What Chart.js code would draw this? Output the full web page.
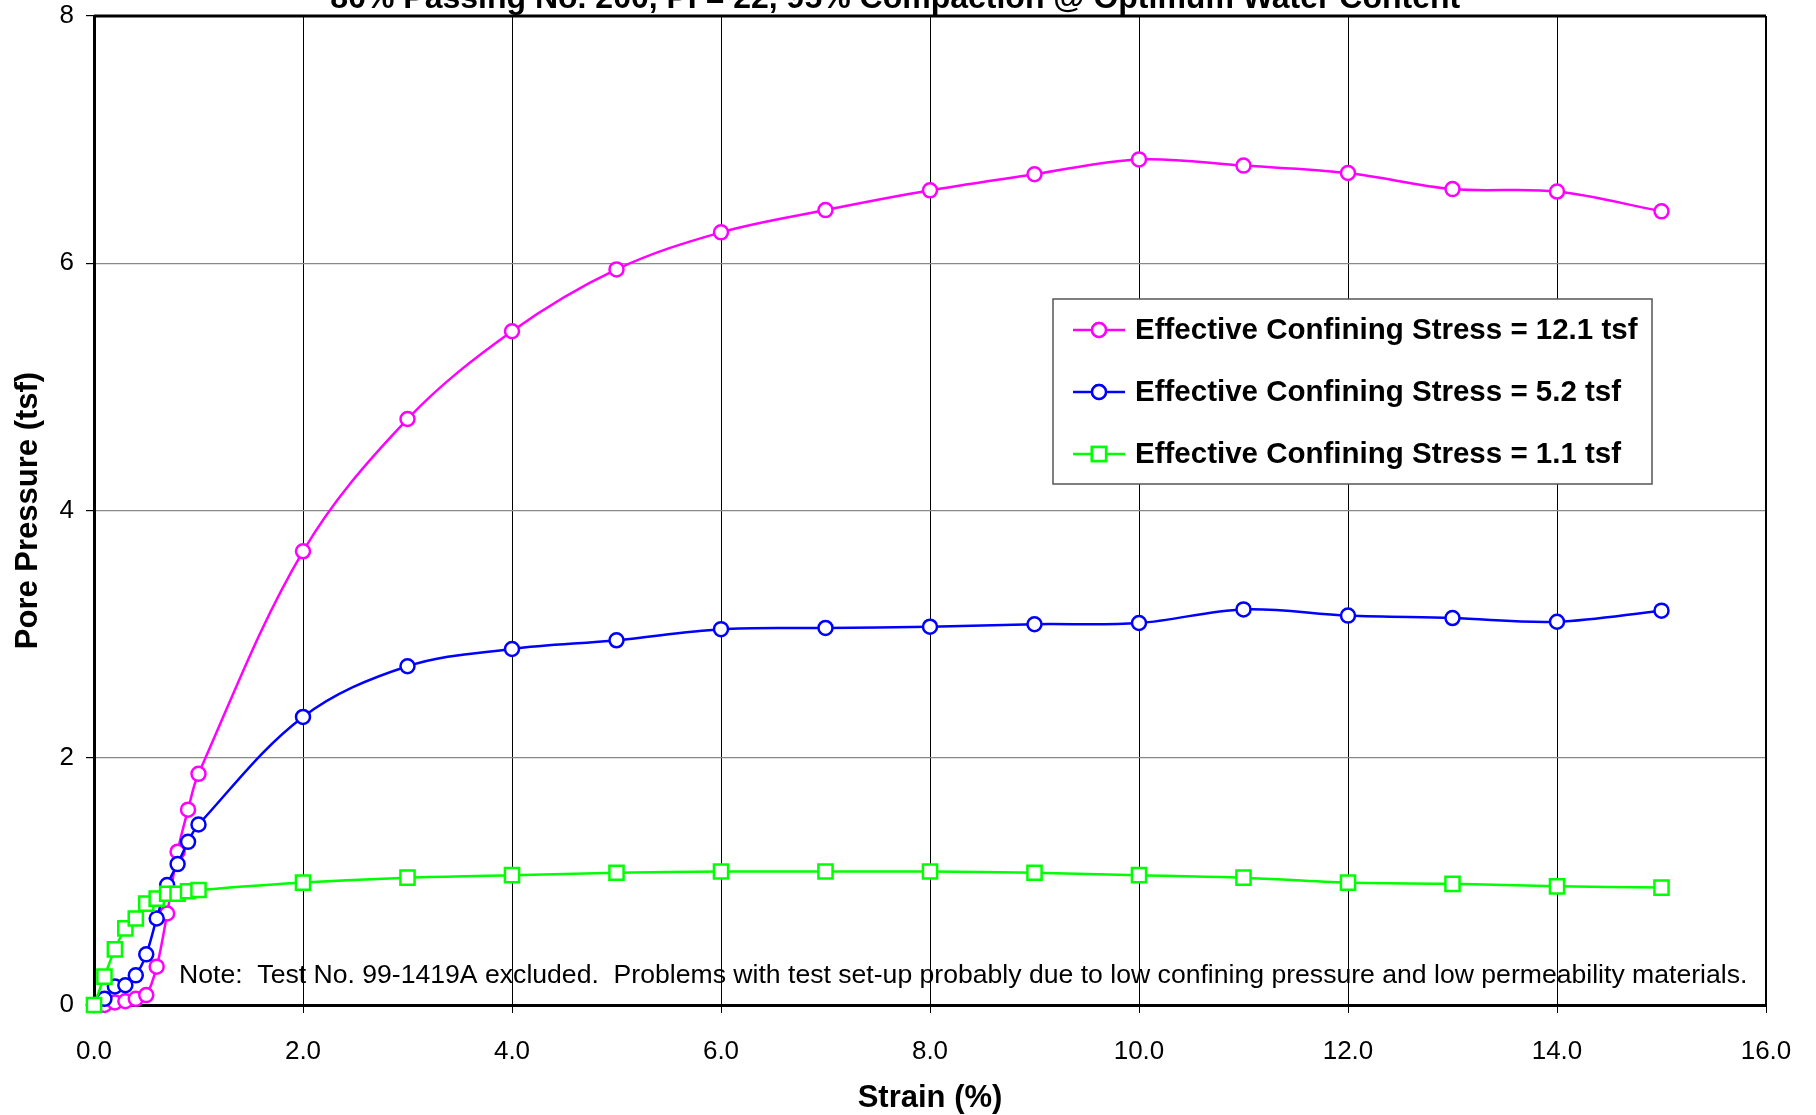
<!DOCTYPE html>
<html>
<head>
<meta charset="utf-8">
<title>Pore Pressure vs Strain</title>
<script src="https://cdn.jsdelivr.net/npm/chart.js@4.4.1/dist/chart.umd.min.js"></script>
<style>
  html, body { margin: 0; padding: 0; background: #fff; }
  #chartWrap { width: 1816px; height: 1115px; position: relative; }
</style>
</head>
<body>
<div id="chartWrap"><canvas id="porePressureChart"></canvas></div>
<script>
const chartTitle = "80% Passing No. 200, PI = 22, 95% Compaction @ Optimum Water Content";
const noteText = "Note:  Test No. 99-1419A excluded.  Problems with test set-up probably due to low confining pressure and low permeability materials.";

// strain (%) readings shared by all three tests
const strain = [0, 0.1, 0.2, 0.3, 0.4, 0.5, 0.6, 0.7, 0.8, 0.9, 1.0, 2, 3, 4, 5, 6, 7, 8, 9, 10, 11, 12, 13, 14, 15];

const seriesLabels = [
  "Effective Confining Stress = 12.1 tsf",
  "Effective Confining Stress = 5.2 tsf",
  "Effective Confining Stress = 1.1 tsf"
];
const pore121 = [0, 0, 0.02, 0.03, 0.05, 0.08, 0.31, 0.74, 1.24, 1.58, 1.87, 3.67, 4.74, 5.45, 5.95, 6.25, 6.43, 6.59, 6.72, 6.84, 6.79, 6.73, 6.60, 6.58, 6.42];
const pore52 = [0, 0.05, 0.15, 0.16, 0.24, 0.41, 0.70, 0.97, 1.14, 1.32, 1.46, 2.33, 2.74, 2.88, 2.95, 3.04, 3.05, 3.06, 3.08, 3.09, 3.20, 3.15, 3.13, 3.10, 3.19];
const pore11 = [0, 0.23, 0.45, 0.62, 0.70, 0.82, 0.86, 0.90, 0.90, 0.92, 0.93, 0.99, 1.03, 1.05, 1.07, 1.08, 1.08, 1.08, 1.07, 1.05, 1.03, 0.99, 0.98, 0.96, 0.95];

const seriesColors = ['#FF00FF', '#0000FF', '#00FF00'];
const seriesPoints = ['circle', 'circle', 'rect'];

const xTicks = [0, 2, 4, 6, 8, 10, 12, 14, 16];
const yTicks = [0, 2, 4, 6, 8];

Chart.defaults.font.family = "'Liberation Sans', Arial, Helvetica, sans-serif";
Chart.defaults.color = '#000';

function toPoints(ys) {
  return strain.map((x, i) => ({ x: x, y: ys[i] }));
}

function makeDataset(i, ys) {
  return {
    label: seriesLabels[i],
    data: toPoints(ys),
    borderColor: seriesColors[i],
    backgroundColor: '#fff',
    pointBackgroundColor: '#fff',
    pointBorderColor: seriesColors[i],
    pointStyle: seriesPoints[i],
    pointRadius: seriesPoints[i] === 'rect' ? 10 : 7,
    pointBorderWidth: 2.5,
    borderWidth: 2.5,
    tension: 0.35,
    fill: false,
    clip: false,
    order: 2 - i   // later series drawn on top, like the original
  };
}

// frame on top and right of the plot, plus title and note text
const framePlugin = {
  id: 'framePlugin',
  afterDraw(chart) {
    const { ctx, chartArea: a } = chart;
    ctx.save();
    ctx.strokeStyle = '#000';
    ctx.lineWidth = 3;
    ctx.beginPath();
    ctx.moveTo(a.left, a.top);
    ctx.lineTo(a.right, a.top);
    ctx.stroke();
    ctx.lineWidth = 2;
    ctx.beginPath();
    ctx.moveTo(a.right, a.top);
    ctx.lineTo(a.right, a.bottom);
    ctx.stroke();

    ctx.fillStyle = '#000';
    ctx.font = "bold 32px 'Liberation Sans', Arial, sans-serif";
    ctx.textAlign = 'center';
    ctx.textBaseline = 'alphabetic';
    ctx.fillText(chartTitle, chart.width * 0.493, 8);

    ctx.font = "26.6px 'Liberation Sans', Arial, sans-serif";
    ctx.textAlign = 'left';
    ctx.fillText(noteText, a.left + 85, a.bottom - 22);
    ctx.restore();
  }
};

// boxed legend sitting inside the plot area
const boxLegendPlugin = {
  id: 'boxLegend',
  afterDraw(chart, args, opts) {
    const { ctx, chartArea: a } = chart;
    const left = a.left + opts.left;
    const top = a.top + opts.top;
    ctx.save();
    ctx.fillStyle = '#fff';
    ctx.fillRect(left, top, opts.width, opts.height);
    ctx.strokeStyle = '#555';
    ctx.lineWidth = 1.5;
    ctx.strokeRect(left, top, opts.width, opts.height);

    ctx.font = "bold 29.5px 'Liberation Sans', Arial, sans-serif";
    ctx.textBaseline = 'middle';
    ctx.textAlign = 'left';
    chart.data.datasets.forEach((ds, i) => {
      const cy = top + opts.firstRow + i * opts.rowGap;
      const x0 = left + 20;
      const x1 = left + 72;
      ctx.strokeStyle = ds.borderColor;
      ctx.lineWidth = 2.5;
      ctx.beginPath();
      ctx.moveTo(x0, cy);
      ctx.lineTo(x1, cy);
      ctx.stroke();
      Chart.helpers.drawPoint(ctx, {
        pointStyle: ds.pointStyle,
        radius: ds.pointRadius,
        borderWidth: 2.5,
        rotation: 0
      }, (x0 + x1) / 2, cy);
      ctx.fillStyle = '#fff';
      ctx.fill();
      ctx.strokeStyle = ds.borderColor;
      ctx.stroke();
      ctx.fillStyle = '#000';
      ctx.fillText(ds.label, left + 82, cy + 1);
    });
    ctx.restore();
  }
};

const ctxEl = document.getElementById("porePressureChart");
const porePressureChart = new Chart(ctxEl, {
  type: 'line',
  data: {
    datasets: [makeDataset(0, pore121), makeDataset(1, pore52), makeDataset(2, pore11)]
  },
  options: {
    responsive: true,
    maintainAspectRatio: false,
    animation: false,
    layout: { padding: { top: 16, right: 50, left: 0, bottom: 0 } },
    scales: {
      x: {
        type: 'linear',
        min: 0,
        max: 16,
        afterBuildTicks: s => { s.ticks = xTicks.map(v => ({ value: v })); },
        afterFit: s => { s.height = 110; },
        ticks: {
          color: '#000',
          font: { size: 26 },
          padding: 23,
          maxRotation: 0,
          callback: v => Number(v).toFixed(1)
        },
        grid: { color: '#000', lineWidth: 1, tickColor: '#000', tickLength: 8 },
        border: { color: '#000', width: 3 },
        title: {
          display: true,
          text: 'Strain (%)',
          color: '#000',
          font: { size: 31, weight: 'bold', lineHeight: 1.0 },
          padding: { top: 0, bottom: 1.5 }
        }
      },
      y: {
        type: 'linear',
        min: 0,
        max: 8,
        afterBuildTicks: s => { s.ticks = yTicks.map(v => ({ value: v })); },
        afterFit: s => {
          s.width = 94;
          s.paddingTop = 0;
          s.paddingBottom = 0;
        },
        ticks: {
          color: '#000',
          font: { size: 26 },
          padding: 12,
          callback: v => String(v)
        },
        grid: { color: '#888', lineWidth: 1.2, tickColor: '#000', tickLength: 8 },
        border: { color: '#000', width: 3 },
        title: {
          display: true,
          text: 'Pore Pressure (tsf)',
          color: '#000',
          font: { size: 31, weight: 'bold' },
          padding: { top: 9.5, bottom: 0 }
        }
      }
    },
    plugins: {
      legend: { display: false },
      tooltip: { enabled: false },
      boxLegend: { left: 959, top: 283, width: 599, height: 185, firstRow: 31, rowGap: 62 }
    }
  },
  plugins: [framePlugin, boxLegendPlugin]
});
</script>
</body>
</html>
